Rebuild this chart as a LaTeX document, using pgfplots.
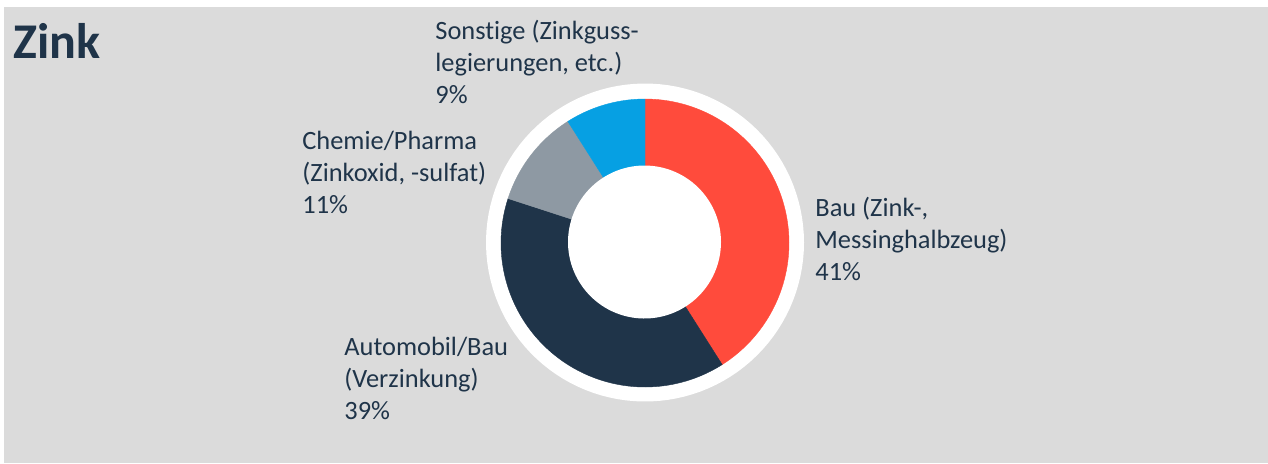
\documentclass[border=0pt]{standalone}
\usepackage{pgfplots}
\pgfplotsset{compat=1.18}
\usepackage{fontspec}
\setmainfont{Carlito}[Ligatures={NoCommon}]
\definecolor{bgc}{HTML}{DBDBDB}
\definecolor{cred}{HTML}{FF4B3C}
\definecolor{cnavy}{HTML}{1F3449}
\definecolor{cgrey}{HTML}{8E99A3}
\definecolor{cblue}{HTML}{06A0E3}
\definecolor{ctext}{HTML}{1F3449}
% shares in percent: Bau, Automobil/Bau, Chemie/Pharma, Sonstige
\def\va{41}\def\vb{39}\def\vc{11}\def\vd{9}
\begin{document}
\begin{tikzpicture}
\begin{axis}[
  scale only axis, width=634pt, height=231.5pt,
  xmin=0, xmax=1268, ymin=0, ymax=463, y dir=reverse,
  hide axis, clip=false]
\fill[white] (axis cs:0,0) rectangle (axis cs:1268,463);
\fill[bgc] (axis cs:4,7) rectangle (axis cs:1268,463);
% white outer ring
\addplot[fill=white, draw=none, domain=0:360, samples=120] ({645+159*cos(x)},{242.5-159*sin(x)}) -- cycle;
% slices
\addplot[fill=cred, draw=cred, line width=0.2pt, domain={90-\va*3.6}:90, samples=80]
  ({645+144*cos(x)},{243-144*sin(x)}) -- (axis cs:645,243) -- cycle;
\addplot[fill=cnavy, draw=cnavy, line width=0.2pt, domain={90-(\va+\vb)*3.6}:{90-\va*3.6}, samples=80]
  ({645+144*cos(x)},{243-144*sin(x)}) -- (axis cs:645,243) -- cycle;
\addplot[fill=cgrey, draw=cgrey, line width=0.2pt, domain={90-(\va+\vb+\vc)*3.6}:{90-(\va+\vb)*3.6}, samples=40]
  ({645+144*cos(x)},{243-144*sin(x)}) -- (axis cs:645,243) -- cycle;
\addplot[fill=cblue, draw=cblue, line width=0.2pt, domain={90-(\va+\vb+\vc+\vd)*3.6}:{90-(\va+\vb+\vc)*3.6}, samples=40]
  ({645+144*cos(x)},{243-144*sin(x)}) -- (axis cs:645,243) -- cycle;
% hole
\addplot[fill=white, draw=none, domain=0:360, samples=120] ({644.5+76.5*cos(x)},{242-76.5*sin(x)}) -- cycle;
% title
\node[anchor=base west, inner sep=0pt, text=ctext, font=\fontsize{25}{30}\selectfont\bfseries] at (axis cs:13,58) {Zink};
% labels
\tikzset{lab/.style={anchor=base west, inner sep=0pt, text=ctext, font=\fontsize{13.2}{16}\selectfont}}
\node[lab] at (axis cs:815,216) {Bau (Zink-,};
\node[lab] at (axis cs:815,248) {Messinghalbzeug)};
\node[lab] at (axis cs:815,280) {41\%};
\node[lab] at (axis cs:435,39) {Sonstige (Zinkguss-};
\node[lab] at (axis cs:435,71) {legierungen, etc.)};
\node[lab] at (axis cs:435,103) {9\%};
\node[lab] at (axis cs:302,149) {Chemie/Pharma};
\node[lab] at (axis cs:302,181) {(Zinkoxid, -sulfat)};
\node[lab] at (axis cs:302,213) {11\%};
\node[lab] at (axis cs:344,355) {Automobil/Bau};
\node[lab] at (axis cs:344,387) {(Verzinkung)};
\node[lab] at (axis cs:344,419) {39\%};
\end{axis}
\end{tikzpicture}
\end{document}
